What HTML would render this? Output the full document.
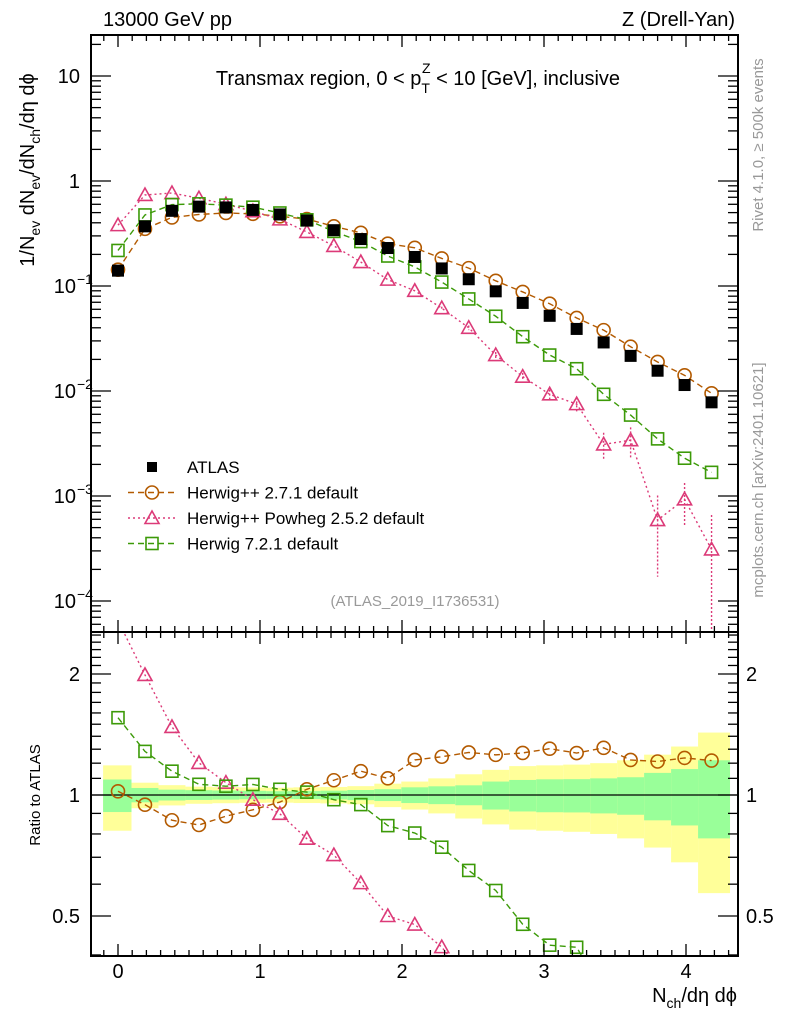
<!DOCTYPE html>
<html><head><meta charset="utf-8"><style>
html,body{margin:0;padding:0;background:#fff;overflow:hidden;width:786px;height:1024px;}
svg{display:block;font-family:"Liberation Sans",sans-serif;}
</style></head><body>
<svg id="c" width="786" height="1024" viewBox="0 0 786 1024" xmlns="http://www.w3.org/2000/svg"></svg>
<script>
const xCenters = [0,0.19,0.38,0.57,0.76,0.95,1.14,1.33,1.52,1.71,1.90,2.09,2.28,2.47,2.66,2.85,3.04,3.23,3.42,3.61,3.80,3.99,4.18];
const atlasVals = [0.14,0.37,0.52,0.57,0.56,0.53,0.48,0.42,0.34,0.28,0.23,0.189,0.147,0.116,0.089,0.069,0.052,0.039,0.029,0.0216,0.0156,0.0114,0.0078];
const hppVals = [0.143,0.35,0.45,0.48,0.496,0.487,0.461,0.434,0.37,0.321,0.253,0.231,0.183,0.148,0.112,0.0878,0.0678,0.0496,0.038,0.0264,0.0189,0.0141,0.0095];
const powhegVals = [0.38,0.736,0.768,0.685,0.601,0.516,0.431,0.327,0.241,0.169,0.115,0.090,0.0615,0.040,0.022,0.0137,0.0093,0.0075,0.0031,0.0034,0.00059,0.00093,0.00031];
const powhegErr = [0,0,0,0,0,0,0,0,0,0,0,0,0.002,0.002,0.0015,0.0012,0.001,0.0012,0.0009,0.0011,0.00042,0.0004,0.00035];
const h7Vals = [0.218,0.475,0.596,0.606,0.589,0.563,0.496,0.427,0.331,0.265,0.193,0.152,0.109,0.0753,0.0515,0.0329,0.0220,0.0163,0.0093,0.0059,0.0035,0.00229,0.00168];
const totErr = [0.185,0.073,0.058,0.049,0.046,0.044,0.043,0.045,0.047,0.052,0.067,0.08,0.10,0.126,0.155,0.18,0.185,0.19,0.20,0.22,0.26,0.32,0.43];
const statErr = [0.093,0.041,0.031,0.028,0.026,0.024,0.022,0.023,0.025,0.029,0.034,0.045,0.051,0.057,0.08,0.09,0.094,0.095,0.10,0.107,0.135,0.16,0.22];
const mainTicks = [{v:10,t:"10"},{v:1,t:"1"},{v:0.1,t:"10",e:"−1"},{v:0.01,t:"10",e:"−2"},{v:0.001,t:"10",e:"−3"},{v:0.0001,t:"10",e:"−4"}];
const ratioTicks = [2,1,0.5];
const xTicks = [0,1,2,3,4];

const S = document.getElementById('c');
const NS = 'http://www.w3.org/2000/svg';
function mk(tag, attrs, parent){const e=document.createElementNS(NS,tag);for(const k in attrs)e.setAttribute(k,attrs[k]);(parent||S).appendChild(e);return e;}

const L=91,R=738,T=35,MB=632,RB=956;
const X = v => 118 + v*142;
const Y = v => 181 - 105*Math.log10(v);
const RY = r => 795 - 121*Math.log2(r);
const brown='#b35a00', pink='#dc3a78', green='#3c9a08';

const gBand = mk('g',{});


const clipR = mk('clipPath',{id:'cr'}); mk('rect',{x:L,y:MB,width:R-L,height:RB-MB},clipR);
const clipM = mk('clipPath',{id:'cm'}); mk('rect',{x:L,y:T,width:R-L,height:MB-T},clipM);
gBand.setAttribute('clip-path','url(#cr)');
xCenters.forEach((c,i)=>{
  const x0 = i===0 ? X(-0.105) : X(c-0.095);
  const x1 = i===xCenters.length-1 ? X(4.31) : X(c+0.095);
  const y = mk('rect',{x:x0,y:RY(1+totErr[i]),width:x1-x0,height:RY(1-totErr[i])-RY(1+totErr[i]),fill:'#ffff99'},gBand);
  
  
  const g = mk('rect',{x:x0,y:RY(1+statErr[i]),width:x1-x0,height:RY(1-statErr[i])-RY(1+statErr[i]),fill:'#99ff99'},gBand);
  
  
});
mk('line',{x1:L,x2:R,y1:RY(1),y2:RY(1),stroke:'#000','stroke-width':1.3});

function marker(g,type,cx,cy,col){
  if(type==='sq') return mk('rect',{x:cx-6,y:cy-6,width:12,height:12,fill:'none',stroke:col,'stroke-width':1.6},g);
  if(type==='circ') return mk('circle',{cx:cx,cy:cy,r:6.5,fill:'none',stroke:col,'stroke-width':1.6},g);
  if(type==='tri') return mk('path',{d:`M${cx},${cy-7} L${cx+7},${cy+5.5} L${cx-7},${cy+5.5} Z`,fill:'none',stroke:col,'stroke-width':1.6},g);
  if(type==='fill') return mk('rect',{x:cx-6,y:cy-6,width:12,height:12,fill:'#000'},g);
}
function series(name,vals,col,dash,type,yf,clip,errs){
  const g=mk('g',{'clip-path':'url(#'+clip+')'});
  
  
  const pts=vals.map((v,i)=>[X(xCenters[i]),yf(v,i)]).filter(p=>isFinite(p[1]));
  if(dash) mk('polyline',{points:pts.map(p=>p.join(',')).join(' '),fill:'none',stroke:col,'stroke-width':1.4,'stroke-dasharray':dash},g);
  vals.forEach((v,i)=>{
    if(errs && errs[i]>0){
      const lo=v-errs[i]; const y1=lo>0?Math.min(yf(lo,i),RB):RB;
      mk('line',{x1:X(xCenters[i]),x2:X(xCenters[i]),y1:yf(v+errs[i],i),y2:y1,stroke:col,'stroke-width':1.4,'stroke-dasharray':'2,2'},g);
    }
    const m=marker(g,type,X(xCenters[i]),yf(v,i),col);
    
    
  });
}
series('herwig-2.7.1-series',hppVals,brown,'6,4','circ',v=>Y(v),'cm');
series('powheg-series',powhegVals,pink,'2,3','tri',v=>Y(v),'cm',powhegErr);
series('herwig-7.2.1-series',h7Vals,green,'6,4','sq',v=>Y(v),'cm');
series('atlas-data',atlasVals,'#000',null,'fill',v=>Y(v),'cm');
series('herwig-2.7.1-ratio',hppVals,brown,'6,4','circ',(v,i)=>RY(v/atlasVals[i]),'cr');
series('powheg-ratio',powhegVals,pink,'2,3','tri',(v,i)=>RY(v/atlasVals[i]),'cr');
series('herwig-7.2.1-ratio',h7Vals,green,'6,4','sq',(v,i)=>RY(v/atlasVals[i]),'cr');

const f1=mk('rect',{x:L,y:T,width:R-L,height:MB-T,fill:'none',stroke:'#000','stroke-width':2});
 
const f2=mk('rect',{x:L,y:MB,width:R-L,height:RB-MB,fill:'none',stroke:'#000','stroke-width':2});
 

const tk=mk('g',{stroke:'#000','stroke-width':1.3});


for(let k=-1;k<=43;k++){
  const v=k/10, x=X(v); if(x<L+1||x>R-1) continue;
  const len = k%10===0?12:6;
  [[T,1],[MB,-1],[MB,1],[RB,-1]].forEach(([y0,d])=>mk('line',{x1:x,x2:x,y1:y0,y2:y0+d*len},tk));
}
for(let e=-5;e<=1;e++){
  for(let m=1;m<=9;m++){
    const v=m*Math.pow(10,e), y=Y(v); if(y<T||y>MB) continue;
    const len=m===1?20:10;
    mk('line',{x1:L,x2:L+len,y1:y,y2:y},tk); mk('line',{x1:R,x2:R-len,y1:y,y2:y},tk);
  }
}
for(let r=0.4;r<=2.55;r+=0.1){
  const rr=Math.round(r*10)/10, y=RY(rr); if(y<MB+1||y>RB-1) continue;
  const maj=[0.5,1,2].includes(rr); const len=maj?20:10;
  mk('line',{x1:L,x2:L+len,y1:y,y2:y},tk); mk('line',{x1:R,x2:R-len,y1:y,y2:y},tk);
}

function txt(s,attrs,name){const t=mk('text',attrs);t.textContent=s;return t;}
mainTicks.forEach(o=>{
  txt(o.t,{x:o.e?76:80,y:Y(o.v)+7,'font-size':20,'text-anchor':'end'},'y-tick-label');
  if(o.e) txt(o.e,{x:77,y:Y(o.v)-2,'font-size':14},'y-tick-exponent');
});
ratioTicks.forEach(r=>{
  txt(String(r),{x:80,y:RY(r)+7,'font-size':20,'text-anchor':'end'},'ratio-tick-label-left');
  txt(String(r),{x:746,y:RY(r)+7,'font-size':20},'ratio-tick-label-right');
});
xTicks.forEach(v=>txt(String(v),{x:X(v),y:978,'font-size':20,'text-anchor':'middle'},'x-tick-label'));

txt('13000 GeV pp',{x:103,y:26,'font-size':20},'energy-label');
txt('Z (Drell-Yan)',{x:735,y:26,'font-size':20,'text-anchor':'end'},'process-label');
const ti=txt('',{x:418,y:85,'font-size':20,'text-anchor':'middle'},'plot-title');
ti.innerHTML='Transmax region, 0 &lt; p<tspan dy="8" font-size="14">T</tspan><tspan dy="-20" dx="-8" font-size="14">Z</tspan><tspan dy="12"> &lt; 10 [GeV], inclusive</tspan>';
txt('(ATLAS_2019_I1736531)',{x:415,y:606,'font-size':15,fill:'#999','text-anchor':'middle'},'analysis-id');
const yt=txt('',{x:0,y:0,'font-size':20,'text-anchor':'middle',transform:'translate(34,170) rotate(-90)'},'y-axis-title');
yt.innerHTML='1/N<tspan dy="6" font-size="14">ev</tspan><tspan dy="-6"> dN</tspan><tspan dy="6" font-size="14">ev</tspan><tspan dy="-6">/dN</tspan><tspan dy="6" font-size="14">ch</tspan><tspan dy="-6">/dη dϕ</tspan>';
txt('Ratio to ATLAS',{x:0,y:0,'font-size':15,'text-anchor':'middle',transform:'translate(40,795) rotate(-90)'},'ratio-axis-title');
const xt=txt('',{x:737,y:1002,'font-size':20,'text-anchor':'end'},'x-axis-title');
xt.innerHTML='N<tspan dy="6" font-size="14">ch</tspan><tspan dy="-6">/dη dϕ</tspan>';
txt('Rivet 4.1.0, ≥ 500k events',{x:0,y:0,'font-size':15,fill:'#999','text-anchor':'middle',transform:'translate(763,145) rotate(-90)'},'rivet-label');
txt('mcplots.cern.ch [arXiv:2401.10621]',{x:0,y:0,'font-size':15,fill:'#999','text-anchor':'middle',transform:'translate(763,480) rotate(-90)'},'mcplots-label');

const lg=mk('g',{});  
const legNames=['ATLAS','Herwig++ 2.7.1 default','Herwig++ Powheg 2.5.2 default','Herwig 7.2.1 default'];
const legCols=['#000',brown,pink,green], legTypes=['fill','circ','tri','sq'], legDash=[null,'6,4','2,3','6,4'];
legNames.forEach((n,i)=>{
  const y=467+i*25.5;
  const e=mk('g',{},lg);  
  if(legDash[i]) mk('line',{x1:128,x2:177,y1:y,y2:y,stroke:legCols[i],'stroke-width':1.4,'stroke-dasharray':legDash[i]},e);
  if(i===0) mk('rect',{x:147,y:y-5,width:10,height:10,fill:'#000'},e); else marker(e,legTypes[i],152,y,legCols[i]);
  const t=mk('text',{x:187,y:y+6,'font-size':17},e); t.textContent=n;
});
</script>
</body></html>
